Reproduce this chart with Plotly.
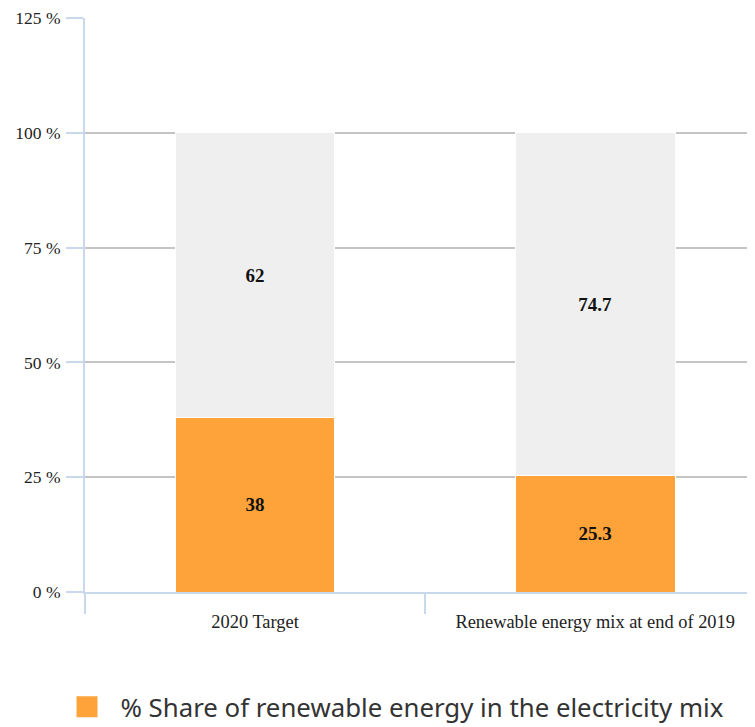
import plotly.graph_objects as go

categories = ["2020 Target", "Renewable energy mix at end of 2019"]
renewable_share = [38, 25.3]
remaining_share = [62, 74.7]
legend_name = "\u00a0\u00a0% Share of renewable energy in the electricity mix"
y_ticks = [0, 25, 50, 75, 100, 125]
y_tick_labels = ["0 %", "25 %", "50 %", "75 %", "100 %", "125 %"]
grid_ticks = [25, 50, 75, 100]

ORANGE = "#fda33a"
GREY = "#efefef"
AXIS = "#c9d9ec"

fig = go.Figure()
fig.add_trace(go.Scatter(x=[None], y=[None], yaxis="y2", showlegend=False, hoverinfo="skip"))
label_font = dict(family="Liberation Serif", size=19, color="#111")
fig.add_trace(go.Bar(
    x=categories, y=renewable_share, text=renewable_share,
    marker=dict(color=ORANGE, line=dict(color="white", width=1)),
    width=0.47, texttemplate="<b>%{text}</b>", textposition="inside", insidetextanchor="middle",
    textfont=label_font, showlegend=False, hoverinfo="skip"))
fig.add_trace(go.Bar(
    x=categories, y=remaining_share, text=remaining_share,
    marker=dict(color=GREY, line=dict(color="white", width=1)),
    width=0.47, texttemplate="<b>%{text}</b>", textposition="inside", insidetextanchor="middle",
    textfont=label_font, showlegend=False, hoverinfo="skip"))
fig.add_trace(go.Scatter(
    x=[None], y=[None], mode="markers", name=legend_name,
    marker=dict(symbol="square", size=16, color=ORANGE, line=dict(color=ORANGE, width=5))))

fig.update_layout(
    width=747, height=719, barmode="stack",
    margin=dict(l=77, r=0, t=10, b=135),
    plot_bgcolor="white", paper_bgcolor="white",
    showlegend=True,
    legend=dict(orientation="h", xref="container", yref="container", x=0.079, y=0.028,
                xanchor="left", yanchor="middle", itemsizing="trace",
                font=dict(family="Noto Sans", size=25.8, color="#333")),
    xaxis=dict(type="category", range=[-0.5, 1.47], tickson="boundaries",
               ticks="outside", ticklen=20, tickcolor=AXIS, tickwidth=1.5,
               showline=True, linecolor=AXIS, linewidth=2, showgrid=False,
               ticklabelstandoff=12,
               tickfont=dict(family="Liberation Serif", size=18.4, color="#222")),
    yaxis=dict(range=[0, 125], tickvals=y_ticks, ticktext=y_tick_labels, showgrid=False,
               ticks="outside", ticklen=17, tickcolor=AXIS, tickwidth=1.5,
               showline=True, linecolor=AXIS, linewidth=2, zeroline=False,
               ticklabelstandoff=2,
               tickfont=dict(family="Liberation Serif", size=17.5, color="#222")),
    yaxis2=dict(range=[0, 125], overlaying="y", tickvals=grid_ticks, showticklabels=False,
                showgrid=True, gridcolor="#c4c4c4", gridwidth=1.5, zeroline=False, layer="below traces"),
)
fig.write_html("out.html")
